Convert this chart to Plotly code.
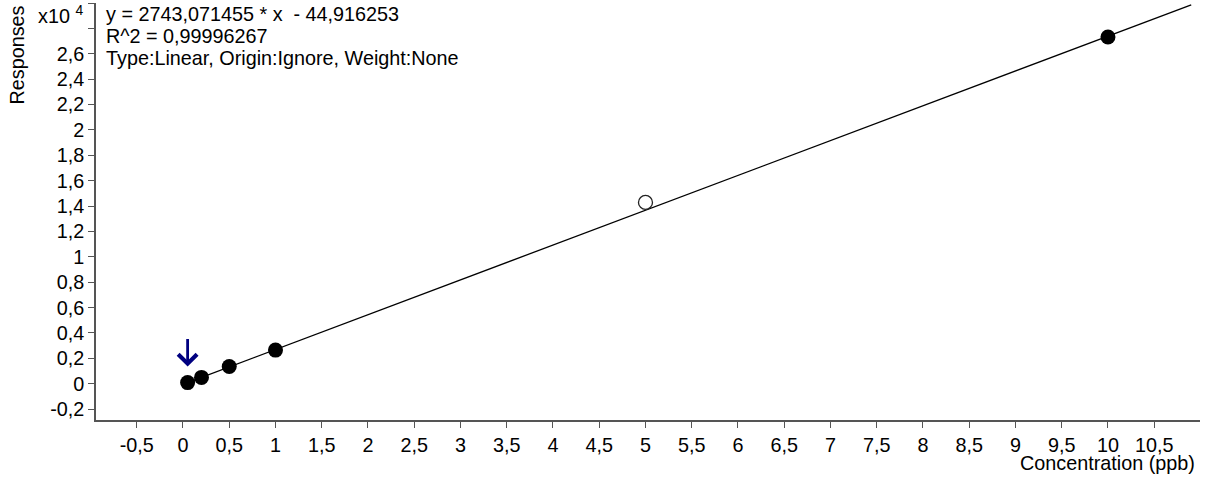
import plotly.graph_objects as go

# Data
conc_used = [0.05, 0.2, 0.5, 1.0, 10.0]
resp_used = [90, 500, 1360, 2650, 27320]
conc_excl = [5.0]
resp_excl = [14290]
slope = 2743.071455
intercept = -44.916253
fit_x = [0.05, 10.9]
fit_y = [slope * v + intercept for v in fit_x]

y_ticks = [-0.2, 0, 0.2, 0.4, 0.6, 0.8, 1.0, 1.2, 1.4, 1.6, 1.8, 2.0, 2.2, 2.4, 2.6, 2.8, 3.0]
y_labels = ["-0,2", "0", "0,2", "0,4", "0,6", "0,8", "1", "1,2", "1,4", "1,6", "1,8", "2", "2,2", "2,4", "2,6", "", ""]
x_ticks = [-0.5, 0, 0.5, 1, 1.5, 2, 2.5, 3, 3.5, 4, 4.5, 5, 5.5, 6, 6.5, 7, 7.5, 8, 8.5, 9, 9.5, 10, 10.5]
x_labels = ["-0,5", "0", "0,5", "1", "1,5", "2", "2,5", "3", "3,5", "4", "4,5", "5", "5,5", "6", "6,5", "7", "7,5", "8", "8,5", "9", "9,5", "10", "10,5"]

W, H = 1207, 477
L, R, T, B = 96, 7, 3, 57
pw, ph = W - L - R, H - T - B

def px(xp):
    return (xp - L) / pw

def py(yp):
    return (H - B - yp) / ph

font = dict(family="Liberation Sans, Arial, sans-serif", size=19.8, color="#000000")

fig = go.Figure()
fig.add_trace(go.Scatter(x=fit_x, y=fit_y, mode="lines",
                         line=dict(color="#000000", width=1.3), showlegend=False, hoverinfo="skip"))
fig.add_trace(go.Scatter(x=conc_used, y=resp_used, mode="markers",
                         marker=dict(color="#000000", size=15, line=dict(width=0)), showlegend=False))
fig.add_trace(go.Scatter(x=conc_excl, y=resp_excl, mode="markers",
                         marker=dict(color="#ffffff", size=14, line=dict(color="#222222", width=1.3)),
                         showlegend=False))

fig.update_layout(
    width=W, height=H,
    margin=dict(l=L, r=R, t=T, b=B, pad=0),
    paper_bgcolor="white", plot_bgcolor="white",
    font=font,
    xaxis=dict(range=[-0.9405, 10.995], tickvals=x_ticks, ticktext=x_labels, automargin=False,
               showgrid=False, zeroline=False, showline=True, linecolor="#555555", linewidth=1.5,
               ticks="outside", ticklen=6, tickcolor="#555555", tickwidth=1.3, tickfont=font),
    yaxis=dict(range=[-0.2858e4, 3.0e4], tickvals=[v * 1e4 for v in y_ticks], ticktext=y_labels, automargin=False,
               showgrid=False, zeroline=False, showline=True, linecolor="#555555", linewidth=1.5,
               ticks="outside", ticklen=6, tickcolor="#555555", tickwidth=1.3, tickfont=font),
)

annots = [
    dict(text="y = 2743,071455 * x  - 44,916253", x=px(104), y=py(1), xanchor="left", yanchor="top"),
    dict(text="R^2 = 0,99996267", x=px(104), y=py(23), xanchor="left", yanchor="top"),
    dict(text="Type:Linear, Origin:Ignore, Weight:None", x=px(104), y=py(45), xanchor="left", yanchor="top"),
    dict(text="x10 <sup>4</sup>", x=px(36), y=py(0), xanchor="left", yanchor="top"),
    dict(text="Responses", x=px(17), y=py(4), xanchor="center", yanchor="top", textangle=-90),
    dict(text="Concentration (ppb)", x=px(1197), y=py(463), xanchor="right", yanchor="middle"),
]
for a in annots:
    fig.add_annotation(xref="paper", yref="paper", showarrow=False, font=font, **a)

fig.add_annotation(x=conc_used[0], y=resp_used[0], xref="x", yref="y", text="",
                   showarrow=True, ax=0, ay=-45, standoff=16,
                   arrowhead=4, arrowsize=1.3, arrowwidth=2.8, arrowcolor="#000080")

fig.write_html("out.html", config={"displayModeBar": False},
               post_script="document.body.style.margin='0px';")
